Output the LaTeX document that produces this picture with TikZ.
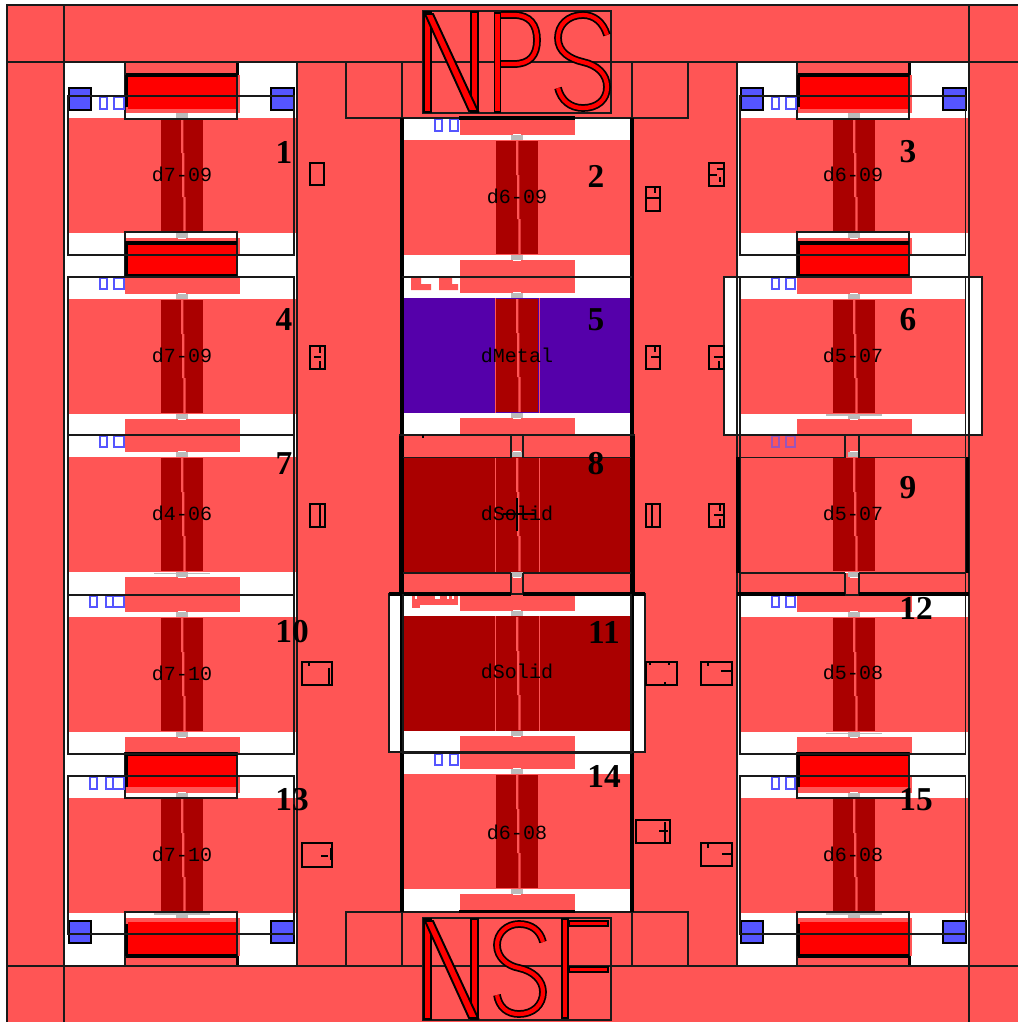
\documentclass[tikz,border=0pt]{standalone}
\usepackage{fontspec}
\setmainfont{Liberation Serif}
\setmonofont{Liberation Mono}
\definecolor{padred}{HTML}{FF5555}
\definecolor{brightred}{HTML}{FF0000}
\definecolor{gatered}{HTML}{AA0000}
\definecolor{metalblue}{HTML}{5500AA}
\definecolor{viablue}{HTML}{5555FF}
\definecolor{contactgrey}{HTML}{BBBBBB}
\tikzset{
  wire/.style={black!90,line width=.8pt},
  heavy/.style={black,line width=1.8pt},
  rail/.style={black,line width=2.2pt},
  viasq/.style={fill=viablue,draw=black,line width=.8pt},
  bluebar/.style={draw=viablue,line width=.8pt},
  tinybox/.style={draw=black,line width=.9pt},
  tick/.style={black,line width=.9pt},
  devlabel/.style={inner sep=0pt,yshift=.5pt,font=\ttfamily\fontsize{11.4}{12}\selectfont},
  numlabel/.style={inner sep=0pt,font=\fontsize{19}{19}\selectfont\bfseries},
  stem/.style={fill=brightred,draw=black,line width=1.1pt},
}
% x centre, field top, field colour
\newcommand{\devcell}[3]{
\begin{scope}[shift={(#1,#2)}]
\fill[padred] (-57,-22) rectangle (58,-5);
\fill[padred] (-57,120) rectangle (58,137);
\fill[#3] (-114,0) rectangle (114,115);
\fill[gatered] (-21,1) rectangle (21,114);
\draw[padred,line width=.4pt] (-22,0) -- (-22,115) (22,0) -- (22,115);
\fill[padred] (-1,1) -- (1.3,1) -- (1.3,35) -- (2.3,35) -- (2.3,79) -- (3.7,79) -- (3.7,114) -- (1.3,114) -- (1.3,79) -- (0,79) -- (0,35) -- (-1,35) -- cycle;
\fill[contactgrey] (-6,-5) rectangle (6,0);
\fill[white] (-4,-6) rectangle (4,-5);
\fill[contactgrey] (-6,115) rectangle (6,120);
\fill[white] (-4,120) rectangle (4,121);
\end{scope}}
% x centre, inner edge, 1 outward up / -1 outward down, height
\newcommand{\railcap}[4]{
\begin{scope}[shift={(#1,#2)},yscale=#3]
\fill[padred] (-57,-6) rectangle (58,-44);
\fill[padred] (-57,-45) rectangle (55,-#4);
\fill[brightred] (-54,-10) rectangle (55,-43);
\draw[wire] (-57,0) rectangle (55,-#4);
\draw[heavy] (-56,-44) -- (55,-44);
\draw[heavy] (-55.5,-44) -- (-55.5,-12);
\draw[heavy] (55.5,-#4) -- (55.5,-44);
\end{scope}}
\newcommand{\sidecap}[3]{
\begin{scope}[shift={(#1,#2)},yscale=#3]
\fill[brightred] (-54,-11) rectangle (55,-44);
\draw[wire] (-57,0) rectangle (55,-45);
\draw[heavy] (-55.5,-45) -- (-55.5,-11);
\draw[heavy] (-57,-44) -- (55,-44);
\end{scope}}
\newcommand{\glyph}[1]{
\draw[black,line width=4.4pt] #1;
\draw[brightred,line width=2.4pt] #1;
}
\begin{document}
\begin{tikzpicture}[x=.02cm,y=-.02cm]
\useasboundingbox (0,0) rectangle (1018,1022);

\fill[padred] (7,5) rectangle (1018,1022);

\fill[white] (65,62) rectangle (297,966);
\fill[white] (737,62) rectangle (969,966);
\fill[white] (403,118) rectangle (631,912);
\fill[white] (389,594) rectangle (645,752);
\fill[white] (724,277) rectangle (982,435);

%%%%%%%%%%%%%%%

\fill[padred] (403,436) rectangle (631,457);
\fill[padred] (403,573) rectangle (631,594);
\fill[padred] (737,436) rectangle (969,457);
\fill[padred] (737,573) rectangle (969,594);

\devcell{182}{118}{padred}
\devcell{182}{299}{padred}
\devcell{182}{457}{padred}
\devcell{182}{617}{padred}
\devcell{182}{798}{padred}

\devcell{517}{140}{padred}
\devcell{517}{298}{metalblue}
\devcell{517}{457}{gatered}
\devcell{517}{616}{gatered}
\devcell{517}{774}{padred}

\devcell{854}{118}{padred}
\devcell{854}{299}{padred}
\devcell{854}{457}{padred}
\devcell{854}{617}{padred}
\devcell{854}{798}{padred}

\fill[white] (965.5,299) rectangle (981,414);
\fill[contactgrey] (154,913) rectangle (210,914.5);
\fill[contactgrey] (826,913) rectangle (882,914.5);
\fill[contactgrey] (154,572.5) rectangle (210,574);
\fill[contactgrey] (826,732.5) rectangle (882,734);
\fill[contactgrey] (826,414) rectangle (882,415.5);

%%%%%%%%%%%%%%%

\railcap{182}{119}{1}{57}
\railcap{854}{119}{1}{57}
\railcap{182}{912}{-1}{54}
\railcap{854}{912}{-1}{54}
\sidecap{182}{232}{-1}
\sidecap{854}{232}{-1}
\sidecap{182}{798}{1}
\sidecap{854}{798}{1}
\draw[heavy] (125,243) -- (237,243);
\draw[heavy] (797,243) -- (909,243);

\draw[viasq] (69,88) rectangle (91,110);
\draw[viasq] (271,88) rectangle (294,110);
\draw[viasq] (741,88) rectangle (763,110);
\draw[viasq] (943,88) rectangle (966,110);
\draw[viasq] (69,921) rectangle (91,943);
\draw[viasq] (271,921) rectangle (294,943);
\draw[viasq] (741,921) rectangle (763,943);
\draw[viasq] (943,921) rectangle (966,943);

\draw[bluebar] (100,97) rectangle (107,109);
\draw[bluebar] (114,97) rectangle (124,109);
\draw[bluebar] (772,97) rectangle (779,109);
\draw[bluebar] (786,97) rectangle (796,109);
\draw[bluebar] (435,119) rectangle (442,131);
\draw[bluebar] (450,119) rectangle (458,131);
\draw[bluebar] (100,278) rectangle (107,289);
\draw[bluebar] (114,278) rectangle (124,289);
\draw[bluebar] (772,278) rectangle (779,289);
\draw[bluebar] (786,278) rectangle (795,289);
\draw[bluebar] (100,436) rectangle (107,447);
\draw[bluebar] (114,436) rectangle (124,447);
\draw[bluebar,opacity=.6] (772,436) rectangle (779,447);
\draw[bluebar,opacity=.6] (786,436) rectangle (795,447);
\draw[bluebar] (90,596) rectangle (97,607);
\draw[bluebar] (106,596) rectangle (113,607);
\draw[bluebar] (113,596) rectangle (124,607);
\draw[bluebar] (772,596) rectangle (779,607);
\draw[bluebar] (786,596) rectangle (795,607);
\draw[bluebar] (435,754) rectangle (442,765);
\draw[bluebar] (450,754) rectangle (458,765);
\draw[bluebar] (90,777) rectangle (97,789);
\draw[bluebar] (106,777) rectangle (113,789);
\draw[bluebar] (113,777) rectangle (124,789);
\draw[bluebar] (772,777) rectangle (779,789);
\draw[bluebar] (786,777) rectangle (795,789);

\fill[padred] (411,278) -- (421,278) -- (421,284) -- (431,284) -- (431,290) -- (411,290) -- cycle;
\fill[padred] (439,278) -- (452,278) -- (452,284) -- (458,284) -- (458,290) -- (439,290) -- cycle;

\fill[padred] (412,596) rectangle (458,605);
\fill[padred] (412,605) rectangle (420,608);
\fill[white] (415,596) rectangle (417,599);
\fill[white] (435,596) rectangle (440,599);
\fill[white] (447,596) rectangle (449,599);
\fill[white] (452,596) rectangle (454,599);

%%%%%%%%%%%%%%%

\draw[wire] (7,1022) -- (7,5) -- (1018,5);
\draw[wire] (7,62) -- (1018,62);
\draw[wire] (7,966) -- (1018,966);
\draw[wire] (64,5) -- (64,1022);
\draw[wire] (969,5) -- (969,1022);
\draw[wire] (297,62) -- (297,966);
\draw[wire] (737,62) -- (737,966);

\draw[wire] (346,62) rectangle (688,118);
\draw[wire] (402,62) -- (402,118);
\draw[wire] (632,62) -- (632,118);
\draw[wire] (346,912) rectangle (688,966);
\draw[wire] (402,912) -- (402,966);
\draw[wire] (632,912) -- (632,966);

\draw[wire] (68,96) rectangle (294,255);
\draw[wire] (68,277) rectangle (294,435);
\draw[wire] (68,435) rectangle (294,595);
\draw[wire] (68,595) rectangle (294,754);
\draw[wire] (68,776) rectangle (294,934);

\draw[wire] (740,96) rectangle (965.5,255);
\draw[wire] (740,277) rectangle (965.5,435);
\draw[wire] (740,435) rectangle (965.5,595);
\draw[wire] (740,595) rectangle (965.5,754);
\draw[wire] (740,776) rectangle (965.5,934);
\draw[wire] (724,277) rectangle (982,435);

\draw[rail] (402,118) -- (402,912);
\draw[rail] (632,118) -- (632,912);
\draw[heavy] (459,118) -- (575,118);
\draw[heavy] (459,911.5) -- (575,911.5);
\draw[wire] (402,277) -- (632,277);
\draw[wire] (402,753) -- (632,753);

\draw[rail] (401,435) -- (401,594);
\draw[rail] (633,435) -- (633,594);
\draw[wire] (399,435) -- (635,435);
\draw[wire] (403,457.5) -- (511,457.5);
\draw[wire] (523,457.5) -- (631,457.5);
\draw[wire] (403,573) -- (511,573);
\draw[wire] (523,573) -- (631,573);
\draw[wire] (511,435) -- (511,457.5);
\draw[wire] (523,435) -- (523,457.5);
\draw[wire] (511,573) -- (511,594);
\draw[wire] (523,573) -- (523,594);
\draw[tick] (423,435) -- (423,438);
\draw[tick] (517,498) -- (517,531);
\draw[tick] (503,514) -- (535,514);

\draw[wire,fill=none] (389,594) rectangle (645,752);
\draw[heavy] (389,594) -- (511,594);
\draw[heavy] (523,594) -- (645,594);
\draw[wire] (403,594) -- (403,752);
\draw[wire] (631,594) -- (631,752);

\draw[rail] (738,457) -- (738,573);
\draw[rail] (967.5,457) -- (967.5,573);
\draw[wire] (740,457.5) -- (845,457.5);
\draw[wire] (859,457.5) -- (965.5,457.5);
\draw[wire] (740,573) -- (845,573);
\draw[wire] (859,573) -- (965.5,573);
\draw[wire] (845,435) -- (845,457.5);
\draw[wire] (859,435) -- (859,457.5);
\draw[wire] (845,573) -- (845,594);
\draw[wire] (859,573) -- (859,594);
\draw[heavy] (737,594) -- (845,594);
\draw[heavy] (859,594) -- (969,594);

%%%%%%%%%%%%%%%

\draw[tinybox] (310,163) rectangle (324,185);
\draw[tinybox] (646,187) rectangle (660,211);
\draw[tinybox] (709,163) rectangle (724,186);
\draw[tinybox] (310,346) rectangle (325,369);
\draw[tinybox] (646,346) rectangle (660,369);
\draw[tinybox] (709,346) rectangle (724,369);
\draw[tinybox] (310,504) rectangle (325,527);
\draw[tinybox] (646,504) rectangle (660,527);
\draw[tinybox] (709,504) rectangle (724,527);
\draw[tinybox] (302,662) rectangle (332,685);
\draw[tinybox] (646,662) rectangle (677,685);
\draw[tinybox] (701,662) rectangle (732,685);
\draw[tinybox] (302,843) rectangle (332,867);
\draw[tinybox] (636,820) rectangle (670,843);
\draw[tinybox] (701,843) rectangle (732,866);

\draw[tick] (646,198) -- (660,198);
\draw[tick] (655,188) -- (655,193);
\draw[tick] (717,169) -- (723,169);
\draw[tick] (710,175) -- (717,175);
\draw[tick] (720,177) -- (720,182);
\draw[tick] (314,357) -- (321,357);
\draw[tick] (320,347) -- (320,353);
\draw[tick] (320,361) -- (320,368);
\draw[tick] (651,357) -- (659,357);
\draw[tick] (655,347) -- (655,352);
\draw[tick] (714,357) -- (723,357);
\draw[tick] (719,361) -- (719,368);
\draw[tick] (320,505) -- (320,526);
\draw[tick] (652,505) -- (652,526);
\draw[tick] (714,515) -- (723,515);
\draw[tick] (720,505) -- (720,511);
\draw[tick] (720,519) -- (720,526);
\draw[tick] (309,663) -- (309,666);
\draw[tick] (329,668) -- (329,684);
\draw[tick] (650,662) -- (650,665);
\draw[tick] (669,662) -- (669,665);
\draw[tick] (665,682) -- (665,685);
\draw[tick] (708,662) -- (708,666);
\draw[tick] (721,671) -- (731,671);
\draw[tick] (321,856) -- (328,856);
\draw[tick] (331,848) -- (331,860);
\draw[tick] (659,831) -- (668,831);
\draw[tick] (665,822) -- (665,842);
\draw[tick] (708,844) -- (708,848);
\draw[tick] (722,854) -- (731,854);

%%%%%%%%%%%%%%%

\draw[wire] (423,11) rectangle (611,113);
\draw[stem] (424,12) rectangle (431,112);
\draw[stem] (471,12) rectangle (478,112);
\draw[stem] (425,14) -- (433,14) -- (478,111) -- (469,111) -- cycle;
\draw[stem] (494.5,13) rectangle (500.5,112);
\glyph{(501,15) -- (514,15) .. controls (530,15) and (537,25) .. (537,40) .. controls (537,55) and (530,64) .. (514,64) -- (501,64)}
\glyph{(607,35) .. controls (603,22) and (594,15) .. (583,15) .. controls (568,15) and (558,25) .. (558,38) .. controls (558,52) and (570,59) .. (583,62) .. controls (597,65) and (607,74) .. (607,87) .. controls (607,100) and (597,108) .. (583,108) .. controls (570,108) and (561,100) .. (558,88)}

\draw[wire] (423,918) rectangle (611,1020);
\draw[stem] (424,919) rectangle (431,1019);
\draw[stem] (471,919) rectangle (478,1019);
\draw[stem] (425,921) -- (433,921) -- (478,1018) -- (469,1018) -- cycle;
\glyph{(543,942) .. controls (540,930) and (531,924) .. (519,924) .. controls (507,924) and (497,933) .. (497,945) .. controls (497,958) and (508,966) .. (519,968) .. controls (533,971) and (543,980) .. (543,992) .. controls (543,1005) and (533,1014) .. (519,1014) .. controls (507,1014) and (499,1007) .. (497,995)}
\draw[stem] (562,919) rectangle (568,1018);
\draw[stem] (569,921) rectangle (608,926);
\draw[stem] (569,967) rectangle (608,972);

%%%%%%%%%%%%%%%

\node[devlabel] (lab1) at (182,175) {d7-09};
\node[devlabel] (lab2) at (517,197) {d6-09};
\node[devlabel] (lab3) at (853,175) {d6-09};
\node[devlabel] (lab4) at (182,356) {d7-09};
\node[devlabel] (lab5) at (517,356) {dMetal};
\node[devlabel] (lab6) at (853,356) {d5-07};
\node[devlabel] (lab7) at (182,514) {d4-06};
\node[devlabel] (lab8) at (517,514) {dSolid};
\node[devlabel] (lab9) at (853,514) {d5-07};
\node[devlabel] (lab10) at (182,674) {d7-10};
\node[devlabel] (lab11) at (517,672) {dSolid};
\node[devlabel] (lab12) at (853,673) {d5-08};
\node[devlabel] (lab13) at (182,855) {d7-10};
\node[devlabel] (lab14) at (517,833) {d6-08};
\node[devlabel] (lab15) at (853,855) {d6-08};

\node[numlabel] (num1) at (284,152) {1};
\node[numlabel] (num2) at (596,176) {2};
\node[numlabel] (num3) at (908,152) {3};
\node[numlabel] (num4) at (284,320) {4};
\node[numlabel] (num5) at (596,320) {5};
\node[numlabel] (num6) at (908,320) {6};
\node[numlabel] (num7) at (284,464) {7};
\node[numlabel] (num8) at (596,464) {8};
\node[numlabel] (num9) at (908,488) {9};
\node[numlabel] (num10) at (292,632) {10};
\node[numlabel] (num11) at (604,632) {11};
\node[numlabel] (num12) at (916,608) {12};
\node[numlabel] (num13) at (292,800) {13};
\node[numlabel] (num14) at (604,776) {14};
\node[numlabel] (num15) at (916,800) {15};

\end{tikzpicture}
\end{document}
